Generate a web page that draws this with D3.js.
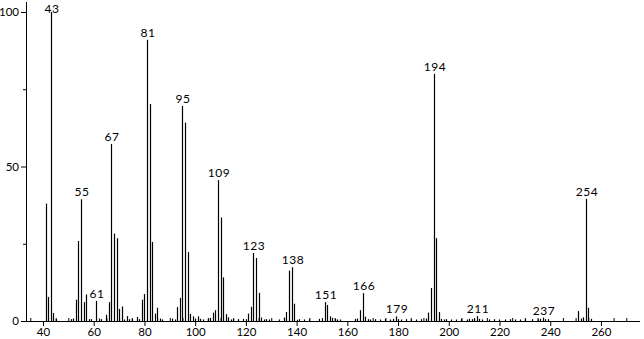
<!DOCTYPE html>
<html>
<head>
<meta charset="utf-8">
<script src="https://cdn.jsdelivr.net/npm/d3@7"></script>
<style>
  body { margin: 0; background: #fff; }
  text { font-family: Lato, "DejaVu Sans", sans-serif; fill: #000; }
</style>
</head>
<body>
<svg id="chart" width="644" height="339"></svg>
<script>
// m/z values and relative intensities
var peakMz = [41, 42, 43, 44, 45, 51, 52, 53, 54, 55, 56, 57, 58, 59, 61, 62, 63, 65, 66, 67,
              68, 69, 70, 71, 72, 73, 74, 75, 77, 78, 79, 80, 81, 82, 83, 84, 85, 86, 87, 91,
              92, 93, 94, 95, 96, 97, 98, 99, 100, 101, 102, 103, 105, 106, 107, 108, 109, 110, 111, 112,
              113, 114, 115, 117, 119, 120, 121, 122, 123, 124, 125, 126, 127, 128, 129, 133, 135, 136, 137, 138,
              139, 140, 141, 143, 145, 149, 150, 151, 152, 153, 154, 155, 156, 157, 163, 164, 165, 166, 167, 168,
              169, 171, 173, 175, 177, 178, 179, 180, 181, 183, 185, 187, 189, 191, 192, 193, 194, 195, 196, 197,
              198, 199, 201, 203, 205, 207, 208, 209, 210, 211, 212, 213, 216, 218, 220, 222, 224, 226, 228, 230,
              233, 235, 236, 237, 238, 239, 251, 252, 253, 254, 255, 256];
var peakInt = [38.0, 7.8, 100, 2.6, 0.6, 0.6, 0.8, 6.9, 25.9, 39.4, 6.1, 8.6, 0.6, 0.6, 6.5, 0.8, 0.6, 2.0, 6.1, 57.3,
               28.3, 26.8, 3.9, 4.7, 0.5, 1.6, 0.6, 0.6, 1.3, 0.6, 6.9, 8.7, 91.0, 70.2, 25.6, 2.4, 4.3, 0.8, 0.5, 0.8,
               0.5, 4.5, 7.5, 69.6, 64.2, 22.3, 2.3, 1.5, 0.8, 1.5, 0.7, 0.5, 0.7, 1.0, 2.7, 3.5, 45.6, 33.5, 14.1, 2.2,
               1.2, 0.5, 0.6, 0.6, 0.7, 0.6, 2.4, 4.6, 22.0, 20.4, 9.1, 1.1, 0.5, 0.6, 0.5, 0.5, 1.1, 2.9, 16.3, 17.4,
               5.6, 0.4, 0.6, 0.5, 0.5, 0.7, 0.4, 6.1, 5.2, 1.5, 1.0, 0.7, 0.5, 0.5, 0.7, 0.8, 3.5, 9.0, 1.4, 0.6,
               0.5, 0.6, 0.5, 0.6, 0.5, 0.7, 1.5, 0.6, 0.5, 0.6, 0.5, 0.5, 0.6, 0.8, 2.7, 10.7, 80.0, 26.8, 2.9, 0.7,
               0.5, 0.6, 0.5, 0.5, 0.6, 0.5, 0.7, 0.6, 0.7, 1.6, 0.7, 0.5, 0.5, 0.6, 0.5, 0.5, 0.6, 0.5, 0.5, 0.5,
               0.6, 0.5, 0.7, 1.1, 0.6, 0.6, 3.2, 0.8, 1.2, 39.5, 4.3, 0.7];
var labelMz = [43, 55, 61, 67, 81, 95, 109, 123, 138, 151, 166, 179, 194, 211, 237, 254];
var xTicks = [40, 60, 80, 100, 120, 140, 160, 180, 200, 220, 240, 260];
var yTicks = [0, 50, 100];
var yMinorTicks = [25, 75];

var svg = d3.select("#chart");

var x = d3.scaleLinear()
          .domain([33.3, 275.4])
          .range([26, 640]);

var y = d3.scaleLinear()
          .domain([0, 100])
          .range([321, 12]);

var peaks = peakMz.map(function(d, i) {
  return {mz: d, v: peakInt[i]};
});

// bars
svg.append("g")
   .selectAll("line")
   .data(peaks)
   .enter()
   .append("line")
   .attr("x1", function(d) { return Math.round(x(d.mz)) + 0.5; })
   .attr("x2", function(d) { return Math.round(x(d.mz)) + 0.5; })
   .attr("y1", y(0))
   .attr("y2", function(d) { return y(d.v); })
   .attr("stroke", "#000")
   .attr("stroke-width", 1.2);

// peak labels (the top one is kept inside the frame)
svg.append("g")
   .selectAll("text")
   .data(peaks.filter(function(d) { return labelMz.indexOf(d.mz) >= 0; }))
   .enter()
   .append("text")
   .attr("x", function(d) { return Math.round(x(d.mz)) + 1; })
   .attr("y", function(d) { return Math.max(12.5, y(d.v) - 3); })
   .attr("text-anchor", "middle")
   .style("font-size", "12px")
   .style("letter-spacing", "0.5px")
   .text(function(d) { return d.mz; });

// x axis
var xAxis = d3.axisBottom(x)
              .tickValues(xTicks)
              .tickSize(5)
              .tickPadding(3)
              .tickFormat(d3.format("d"));

var gx = svg.append("g")
            .attr("transform", "translate(0," + y(0) + ")")
            .call(xAxis);
gx.select(".domain").attr("d", "M26,0.5H640");

// minor x ticks every 5
var minorX = d3.range(35, 275, 5).filter(function(d) { return d % 20 != 0; });
gx.selectAll(".minor")
  .data(minorX)
  .enter()
  .append("line")
  .attr("class", "minor")
  .attr("x1", function(d) { return x(d) + 0.5; })
  .attr("x2", function(d) { return x(d) + 0.5; })
  .attr("y1", 0)
  .attr("y2", -3)
  .attr("stroke", "#000");

// y axis
var yAxis = d3.axisLeft(y)
              .tickValues(yTicks)
              .tickSize(5)
              .tickPadding(2)
              .tickFormat(d3.format("d"));

var gy = svg.append("g")
            .attr("transform", "translate(26,0)")
            .call(yAxis);
gy.select(".domain").attr("d", "M0.5,321.5V2");

gy.selectAll(".minor")
  .data(yMinorTicks)
  .enter()
  .append("line")
  .attr("class", "minor")
  .attr("x1", 0)
  .attr("x2", -3)
  .attr("y1", function(d) { return y(d) + 0.5; })
  .attr("y2", function(d) { return y(d) + 0.5; })
  .attr("stroke", "#000");

svg.selectAll(".tick text")
   .style("font-size", "11.5px")
   .style("font-family", "Lato, 'DejaVu Sans', sans-serif");
gx.selectAll(".tick text").attr("dy", "0.65em");
</script>
</body>
</html>
